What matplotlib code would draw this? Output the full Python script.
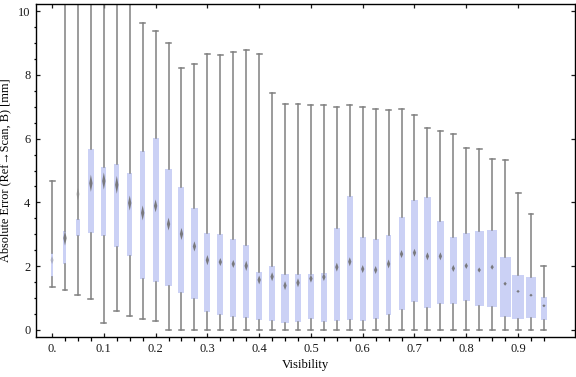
import numpy as np
import matplotlib
matplotlib.use("Agg")
import matplotlib.pyplot as plt

plt.rcParams['font.family'] = ['Liberation Serif', 'DejaVu Serif']

# visibility bins (centre of each box)
visibility = [i * 0.025 for i in range(39)]

whisker_lo = [1.35, 1.25, 1.10, 0.97, 0.22, 0.60, 0.44, 0.35, 0.28, 0, 0, 0,
              0, 0, 0, 0, 0, 0, 0, 0, 0, 0, 0, 0, 0, 0, 0, 0, 0, 0, 0, 0,
              0, 0, 0, 0, 0, 0, 0]
q1 = [1.67, 2.07, 2.95, 3.05, 2.95, 2.61, 2.33, 1.60, 1.52, 1.38, 1.17, 0.97,
      0.57, 0.47, 0.42, 0.39, 0.31, 0.29, 0.23, 0.26, 0.35, 0.26, 0.29, 0.31,
      0.29, 0.35, 0.48, 0.64, 0.88, 0.70, 0.82, 0.82, 0.92, 0.76, 0.73, 0.42,
      0.35, 0.39, 0.32]
q3 = [2.42, 3.11, 3.48, 5.67, 5.11, 5.20, 4.92, 5.61, 6.02, 5.05, 4.49, 3.83,
      3.05, 3.01, 2.85, 2.66, 1.82, 2.01, 1.76, 1.76, 1.76, 1.79, 3.20, 4.20,
      2.92, 2.85, 2.98, 3.54, 4.07, 4.17, 3.42, 2.92, 3.04, 3.10, 3.12, 2.29,
      1.72, 1.66, 1.03]
whisker_hi = [4.68, 12, 12, 12, 12, 12, 12, 9.62, 9.37, 9.00, 8.20, 8.33,
              8.65, 8.62, 8.71, 8.78, 8.65, 7.43, 7.10, 7.10, 7.05, 7.05, 6.98,
              7.05, 6.98, 6.92, 6.89, 6.92, 6.73, 6.32, 6.23, 6.13, 5.72, 5.66,
              5.35, 5.32, 4.29, 3.63, 2.01]
means = [2.19, 2.88, 4.26, 4.60, 4.67, 4.55, 3.98, 3.67, 3.89, 3.32, 3.01, 2.62,
         2.19, 2.13, 2.07, 2.01, 1.57, 1.67, 1.39, 1.48, 1.61, 1.66, 1.97, 2.14,
         1.91, 1.88, 2.07, 2.38, 2.42, 2.31, 2.31, 1.93, 2.01, 1.88, 1.97, 1.45,
         1.21, 1.09, 0.76]
# half height of the mean marker (uncertainty of the mean)
mean_err = [0.125, 0.235, 0.19, 0.27, 0.27, 0.28, 0.235, 0.235, 0.2, 0.2, 0.19,
            0.16, 0.16, 0.125, 0.125, 0.16, 0.14, 0.14, 0.14, 0.14, 0.125, 0.125,
            0.14, 0.14, 0.125, 0.125, 0.14, 0.125, 0.125, 0.125, 0.125, 0.11,
            0.095, 0.08, 0.08, 0.063, 0.047, 0.047, 0.047]
# box widths (relative sample size)
widths = [0.0039, 0.0058, 0.0083, 0.0102, 0.0102, 0.0097, 0.0102, 0.0097,
          0.0116, 0.0129, 0.0116, 0.0122, 0.0116, 0.0116, 0.0116, 0.0116,
          0.0116, 0.0116, 0.0141, 0.0129, 0.0116, 0.0116, 0.0116, 0.0116,
          0.0116, 0.0116, 0.011, 0.0116, 0.0122, 0.0129, 0.0129, 0.0135,
          0.0135, 0.0174, 0.018, 0.0212, 0.0226, 0.0212, 0.0116]

stats = []
for i in range(len(visibility)):
    stats.append(dict(whislo=whisker_lo[i], q1=q1[i], med=means[i], q3=q3[i],
                      whishi=whisker_hi[i], fliers=[]))

fig = plt.figure(figsize=(5.76, 3.77), dpi=100)
ax = fig.add_axes([36 / 576, 1 - 337 / 377, 539 / 576, 333 / 377])

ax.bxp(stats, positions=visibility, widths=widths, capwidths=0.0095,
       patch_artist=True, showfliers=False, manage_ticks=False,
       boxprops=dict(facecolor='#cbd1f5', edgecolor='none', linewidth=0),
       whiskerprops=dict(color='#808080', linewidth=1.1),
       capprops=dict(color='#808080', linewidth=1.1),
       medianprops=dict(visible=False))

# mean markers (thin vertical diamonds)
for i, x in enumerate(visibility):
    hw = 0.0032
    e = mean_err[i]
    m = means[i]
    a = 0.35 if i in (0, 2) else 0.9
    ax.fill([x - hw, x, x + hw, x], [m, m + e, m, m - e],
            color='#707070', alpha=a, linewidth=0, zorder=5)

ax.set_xlim(-0.031, 1.010)
ax.set_ylim(-0.22, 10.22)

ax.set_xticks(np.arange(0, 0.95, 0.1))
ax.set_xticklabels(['0.'] + ['%.1f' % v for v in np.arange(0.1, 0.95, 0.1)])
ax.set_xticks(np.arange(0, 0.96, 0.025), minor=True)
ax.set_yticks([0, 2, 4, 6, 8, 10])
ax.set_yticks(np.arange(0, 10.1, 0.5), minor=True)

ax.tick_params(direction='in', top=True, right=True, labelsize=9,
               colors='#1a1a1a', pad=4)
ax.tick_params(axis='x', which='both', length=3.2, width=0.9)
ax.tick_params(axis='y', which='major', length=3.2, width=0.9)
ax.tick_params(axis='y', which='minor', length=1.8, width=0.9)
for s in ax.spines.values():
    s.set_linewidth(1.0)

ax.set_xlabel('Visibility', fontsize=9.2, labelpad=3)
ax.set_ylabel('Absolute Error (Ref\u2192Scan, B) [mm]', fontsize=8.8, labelpad=5)

fig.savefig('out.png', dpi=100)
